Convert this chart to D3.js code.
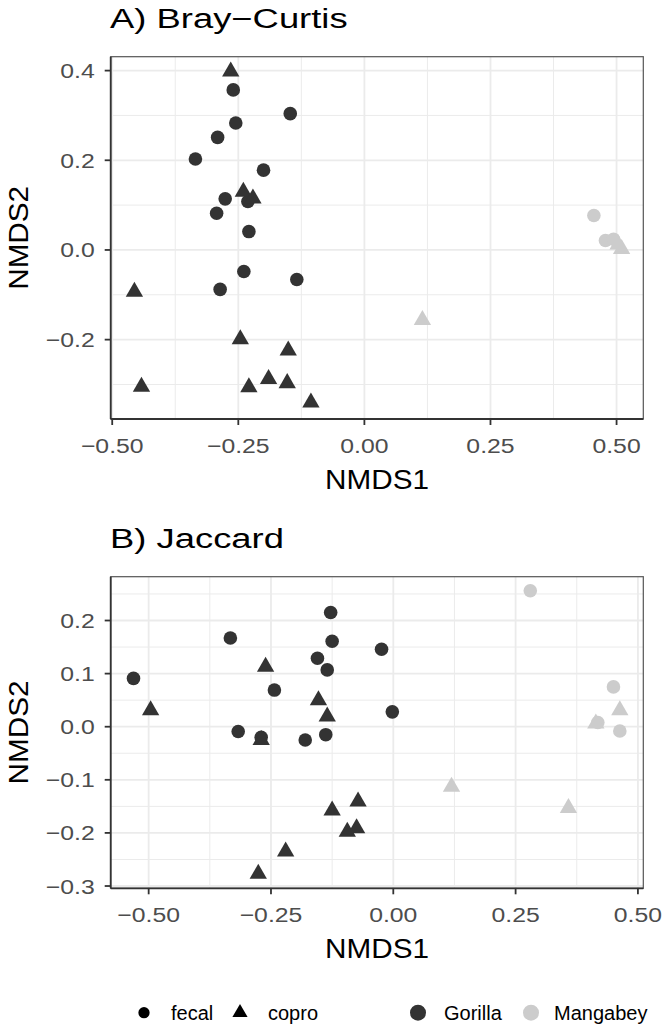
<!DOCTYPE html>
<html><head><meta charset="utf-8">
<script src="https://cdn.jsdelivr.net/npm/d3@7"></script>
<style>body{margin:0;background:#fff}svg{display:block}</style>
</head><body>
<script>
// ---------- data ----------
const xTicks = [-0.5, -0.25, 0, 0.25, 0.5];
const xTickLabels = ["\u22120.50", "\u22120.25", "0.00", "0.25", "0.50"];
const xMinor = [-0.375, -0.125, 0.125, 0.375];

const bcYTicks = [-0.2, 0, 0.2, 0.4];
const bcYTickLabels = ["\u22120.2", "0.0", "0.2", "0.4"];
const bcYMinor = [-0.3, -0.1, 0.1, 0.3];

const jcYTicks = [-0.3, -0.2, -0.1, 0, 0.1, 0.2];
const jcYTickLabels = ["\u22120.3", "\u22120.2", "\u22120.1", "0.0", "0.1", "0.2"];
const jcYMinor = [-0.25, -0.15, -0.05, 0.05, 0.15, 0.25];

// Bray-Curtis NMDS coordinates [NMDS1, NMDS2]
const bcGorillaFecal = [[-0.260,0.357],[-0.147,0.304],[-0.255,0.283],[-0.291,0.251],[-0.335,0.203],[-0.200,0.178],[-0.276,0.114],[-0.231,0.108],[-0.293,0.082],[-0.229,0.041],[-0.239,-0.048],[-0.134,-0.066],[-0.286,-0.088]];
const bcGorillaCopro = [[-0.265,0.398],[-0.240,0.130],[-0.221,0.115],[-0.456,-0.093],[-0.246,-0.199],[-0.151,-0.224],[-0.442,-0.305],[-0.190,-0.288],[-0.229,-0.306],[-0.153,-0.297],[-0.106,-0.340]];
const bcMangabeyFecal = [[0.455,0.077],[0.478,0.021],[0.494,0.024]];
const bcMangabeyCopro = [[0.503,0.012],[0.510,0.002],[0.115,-0.156]];

// Jaccard NMDS coordinates
const jcGorillaFecal = [[-0.531,0.091],[-0.333,0.167],[-0.243,0.069],[-0.128,0.215],[-0.125,0.161],[-0.155,0.129],[-0.135,0.107],[-0.024,0.146],[-0.002,0.028],[-0.317,-0.009],[-0.270,-0.020],[-0.180,-0.025],[-0.138,-0.015]];
const jcGorillaCopro = [[-0.496,0.031],[-0.261,0.113],[-0.153,0.050],[-0.135,0.019],[-0.270,-0.025],[-0.125,-0.158],[-0.072,-0.141],[-0.075,-0.191],[-0.094,-0.198],[-0.220,-0.235],[-0.276,-0.277]];
const jcMangabeyFecal = [[0.280,0.256],[0.450,0.075],[0.463,-0.008],[0.418,0.008]];
const jcMangabeyCopro = [[0.463,0.031],[0.414,0.006],[0.119,-0.113],[0.358,-0.153]];

const shapeLabels = ["fecal", "copro"];
const hostLabels = ["Gorilla", "Mangabey"];
const hostColors = ["#333333", "#cccccc"];

// ---------- drawing ----------
const W = 666, H = 1028;
const FONT = "'Liberation Sans', Arial, Helvetica, sans-serif";
const svg = d3.select("body").append("svg").attr("width", W).attr("height", H);

function stext(g, x, y, str, size, sx, anchor, color, rot) {
  return g.append("text")
    .attr("transform", `translate(${x},${y})` + (rot ? ` rotate(${rot})` : "") + ` scale(${sx},1)`)
    .attr("font-family", FONT).attr("font-size", size)
    .attr("text-anchor", anchor).attr("fill", color).text(str);
}

function panel(cfg) {
  const x = d3.scaleLinear().domain(cfg.xDomain).range([110.7, 643.3]);
  const y = d3.scaleLinear().domain(cfg.yDomain).range([cfg.bottom, cfg.top]);
  const g = svg.append("g");
  const [x0, x1] = x.range(), [y1, y0] = y.range();

  // minor grid
  g.selectAll(null).data(xMinor).join("line")
    .attr("x1", d => x(d)).attr("x2", d => x(d)).attr("y1", y0).attr("y2", y1)
    .attr("stroke", "#ebebeb").attr("stroke-width", 1);
  g.selectAll(null).data(cfg.yMinor).join("line")
    .attr("y1", d => y(d)).attr("y2", d => y(d)).attr("x1", x0).attr("x2", x1)
    .attr("stroke", "#ebebeb").attr("stroke-width", 1);
  // major grid
  g.selectAll(null).data(xTicks).join("line")
    .attr("x1", d => x(d)).attr("x2", d => x(d)).attr("y1", y0).attr("y2", y1)
    .attr("stroke", "#ebebeb").attr("stroke-width", 1.8);
  g.selectAll(null).data(cfg.yTicks).join("line")
    .attr("y1", d => y(d)).attr("y2", d => y(d)).attr("x1", x0).attr("x2", x1)
    .attr("stroke", "#ebebeb").attr("stroke-width", 1.8);

  // points
  const circ = d3.symbol().type(d3.symbolCircle).size(145);
  const tri = d3.symbol().type(d3.symbolTriangle).size(130);
  const layers = [
    [cfg.gf, circ, hostColors[0]], [cfg.gc, tri, hostColors[0]],
    [cfg.mf, circ, hostColors[1]], [cfg.mc, tri, hostColors[1]]
  ];
  layers.forEach(([data, sym, col]) => {
    g.selectAll(null).data(data).join("path")
      .attr("d", sym)
      .attr("transform", d => `translate(${x(d[0])},${y(d[1])})`)
      .attr("fill", col);
  });

  // border
  g.append("rect").attr("x", x0).attr("y", y0).attr("width", x1 - x0).attr("height", y1 - y0)
    .attr("fill", "none").attr("stroke", "#555").attr("stroke-width", 1.2);
  g.append("line").attr("x1", x0).attr("x2", x0).attr("y1", y0).attr("y2", y1)
    .attr("stroke", "#333").attr("stroke-width", 1.8);
  g.append("line").attr("x1", x0).attr("x2", x1).attr("y1", y1).attr("y2", y1)
    .attr("stroke", "#333").attr("stroke-width", 1.8);

  // ticks
  g.selectAll(null).data(xTicks).join("line")
    .attr("x1", d => x(d)).attr("x2", d => x(d)).attr("y1", y1).attr("y2", y1 + 6)
    .attr("stroke", "#333").attr("stroke-width", 1.8);
  g.selectAll(null).data(cfg.yTicks).join("line")
    .attr("y1", d => y(d)).attr("y2", d => y(d)).attr("x1", x0 - 6).attr("x2", x0)
    .attr("stroke", "#333").attr("stroke-width", 1.8);

  xTicks.forEach((d, i) => stext(g, x(d), y1 + 34, xTickLabels[i], 21, 1.18, "middle", "#4d4d4d"));
  cfg.yTicks.forEach((d, i) => stext(g, x0 - 16, y(d) + 7.5, cfg.yLabels[i], 21, 1.18, "end", "#4d4d4d"));

  stext(g, (x0 + x1) / 2, y1 + 70, "NMDS1", 27, 1.1, "middle", "#000");
  stext(g, 28, (y0 + y1) / 2, "NMDS2", 27, 1.1, "middle", "#000", -90);
  stext(g, 110, y0 - 29, cfg.title, 28, 1.3, "start", "#000");
}

panel({ title: "A) Bray\u2212Curtis", xDomain: [-0.503, 0.553], yDomain: [-0.377, 0.431],
  top: 56.7, bottom: 419, yTicks: bcYTicks, yLabels: bcYTickLabels, yMinor: bcYMinor,
  gf: bcGorillaFecal, gc: bcGorillaCopro, mf: bcMangabeyFecal, mc: bcMangabeyCopro });

panel({ title: "B) Jaccard", xDomain: [-0.5776, 0.511], yDomain: [-0.3043, 0.2825],
  top: 576.7, bottom: 888.3, yTicks: jcYTicks, yLabels: jcYTickLabels, yMinor: jcYMinor,
  gf: jcGorillaFecal, gc: jcGorillaCopro, mf: jcMangabeyFecal, mc: jcMangabeyCopro });

// legend
const lg = svg.append("g");
const ly = 1012.7;
lg.append("path").attr("d", d3.symbol().type(d3.symbolCircle).size(100)).attr("transform", `translate(144,${ly})`).attr("fill", "#000");
stext(lg, 171, ly + 7, shapeLabels[0], 20, 1.0, "start", "#000");
lg.append("path").attr("d", d3.symbol().type(d3.symbolTriangle).size(100)).attr("transform", `translate(240,${ly})`).attr("fill", "#000");
stext(lg, 268, ly + 7, shapeLabels[1], 20, 1.0, "start", "#000");
lg.append("circle").attr("cx", 418).attr("cy", ly).attr("r", 8).attr("fill", hostColors[0]);
stext(lg, 444, ly + 7, hostLabels[0], 20, 1.0, "start", "#000");
lg.append("circle").attr("cx", 531).attr("cy", ly).attr("r", 8).attr("fill", hostColors[1]);
stext(lg, 554, ly + 7, hostLabels[1], 20, 1.0, "start", "#000");
</script>
</body></html>
